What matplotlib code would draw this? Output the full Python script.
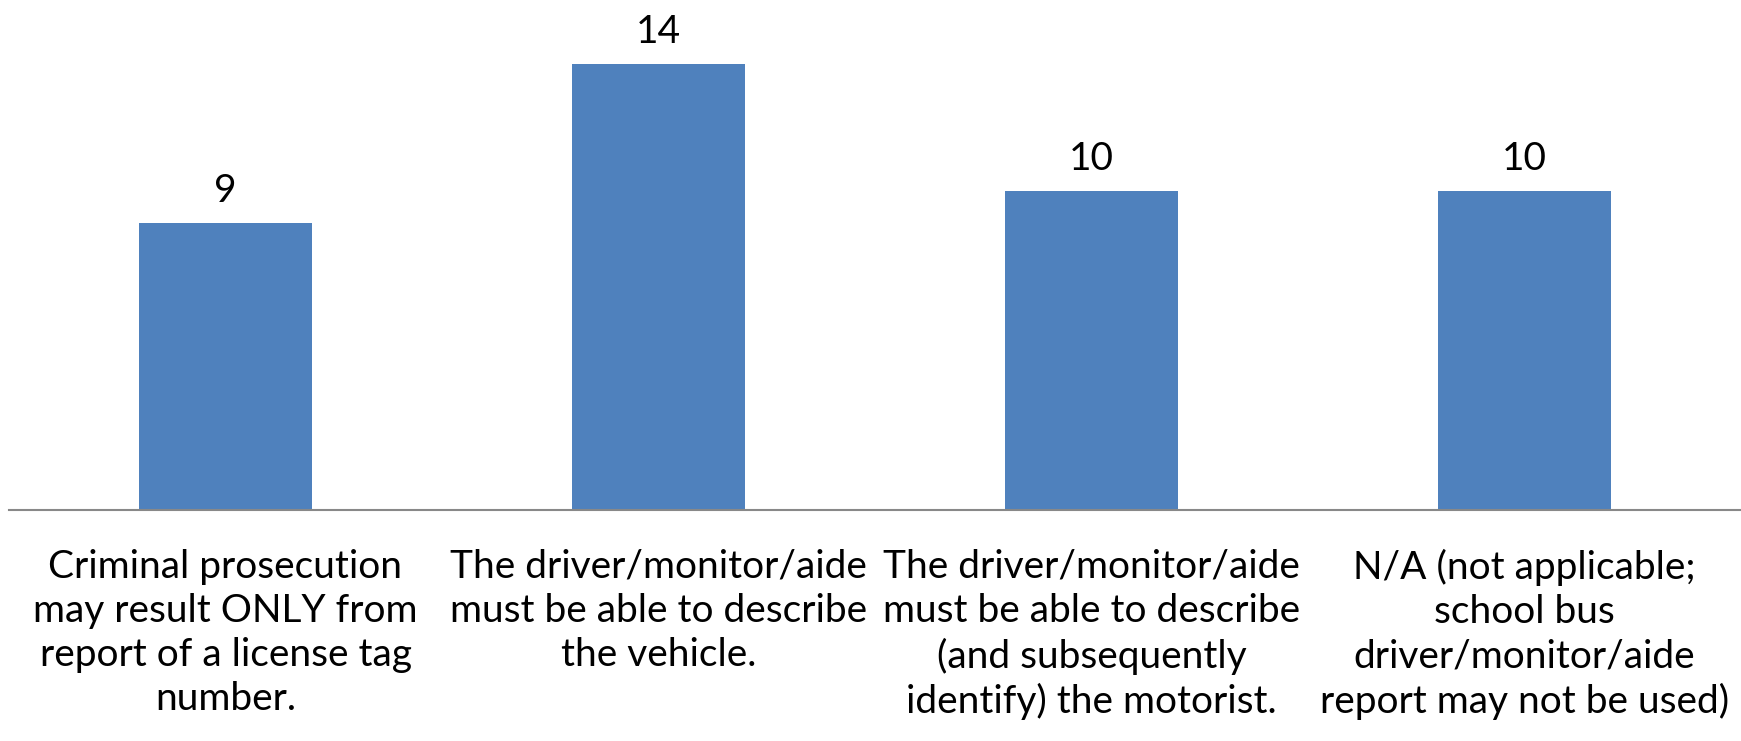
import matplotlib
matplotlib.use("Agg")
import matplotlib.pyplot as plt
import numpy as np

plt.rcParams['font.family'] = ['Lato', 'DejaVu Sans']

# chart data
categories = [
    "Criminal prosecution\nmay result ONLY from\nreport of a license tag\nnumber.",
    "The driver/monitor/aide\nmust be able to describe\nthe vehicle.",
    "The driver/monitor/aide\nmust be able to describe\n(and subsequently\nidentify) the motorist.",
    "N/A (not applicable;\nschool bus\ndriver/monitor/aide\nreport may not be used)",
]
counts = [9, 14, 10, 10]

bar_color = "#4F81BD"

fig = plt.figure(figsize=(17.41, 7.41), dpi=100)
ax = fig.add_axes([9 / 1741, 231 / 741, 1 - 9 / 1741, 510 / 741])

x = np.arange(len(categories))
bars = ax.bar(x, counts, width=0.4, color=bar_color)
ax.bar_label(bars, labels=[str(c) for c in counts], padding=10, fontsize=28)

ax.set_xlim(-0.5, len(categories) - 0.5)
ax.set_ylim(0, 16)
ax.set_yticks([])
ax.set_xticks(x)
ax.set_xticklabels(categories, fontsize=28, linespacing=1.28, va='top')
ax.tick_params(axis='x', length=0, pad=28)

for side in ['top', 'right', 'left']:
    ax.spines[side].set_visible(False)
ax.spines['bottom'].set_color('#888888')
ax.spines['bottom'].set_linewidth(1.5)

fig.savefig("out.png", dpi=100)
